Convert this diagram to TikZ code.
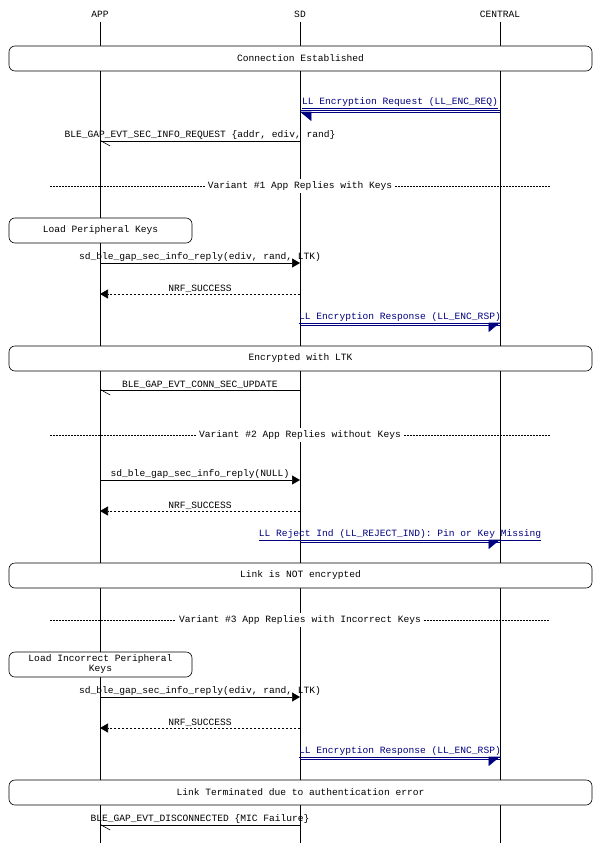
\documentclass[tikz,border=0pt]{standalone}
\usepackage{fontspec}
\setmonofont{Liberation Mono}
\usetikzlibrary{arrows.meta}
\definecolor{navy}{RGB}{0,0,128}

\begin{document}
\begin{tikzpicture}[x=1pt,y=-1pt,font=\ttfamily\fontsize{9.6}{11}\selectfont]
  \tikzset{life/.style={draw,line width=0.6pt}}
  \tikzset{band/.style={draw,fill=white,rounded corners=6pt,line width=0.6pt,minimum height=25pt,inner sep=0pt}}
  \tikzset{msg/.style={draw,line width=0.6pt,-{Triangle[length=8pt,width=9pt]}}}
  \tikzset{ret/.style={msg,dashed,dash pattern=on 2pt off 2pt}}
  \tikzset{evt/.style={draw,line width=0.6pt,-{Straight Barb[left,length=9pt,width=10pt]}}}
  \tikzset{air/.style={draw=navy,line width=0.6pt}}
  \tikzset{lbl/.style={anchor=south,inner sep=1pt}}
  \tikzset{alb/.style={lbl,text=navy}}
  \tikzset{sep/.style={draw,line width=0.5pt,dash pattern=on 1.5pt off 1.5pt}}

  \useasboundingbox (0,0) rectangle (600,843);

  % lifelines
  \node (app) at (100,14) {APP};
  \node (sd) at (300,14) {SD};
  \node (cen) at (500,14) {CENTRAL};
  \coordinate (append) at (100,843);
  \coordinate (sdend) at (300,843);
  \coordinate (cenend) at (500,843);
  \draw[life] (100,22) -- (append);
  \draw[life] (300,22) -- (sdend);
  \draw[life] (500,22) -- (cenend);

  \node[band,minimum width=583pt] (est) at (300.5,58.5) {Connection Established};

  % request from central
  \coordinate (req1) at (500,110);
  \coordinate (req2) at (300,110);
  \draw[air] (req1) -- (req2);
  \draw[air,-{Triangle[left,length=11pt,width=18pt]},fill=navy] ([yshift=-2pt]req1) -- ([yshift=-2pt]req2);
  \node[alb] (reql) at (400,110) {\underline{LL Encryption Request (LL\_ENC\_REQ)}};

  \coordinate (info1) at (300,141);
  \coordinate (info2) at (100,141);
  \draw[evt] (info1) -- (info2);
  \node[lbl] (infol) at (200,141) {BLE\_GAP\_EVT\_SEC\_INFO\_REQUEST \{addr, ediv, rand\}};

  % variant 1
  \node[fill=white,inner sep=3pt] (var1) at (300,186) {Variant \#1 App Replies with Keys};
  \coordinate (var1a) at (50,186);
  \coordinate (var1b) at (550,186);
  \draw[sep] (var1a) -- (var1.west);
  \draw[sep] (var1.east) -- (var1b);

  \node[band,minimum width=183pt] (load1) at (100.5,230.5) {Load Peripheral Keys};

  \coordinate (rep1a) at (100,263);
  \coordinate (rep1b) at (300,263);
  \draw[msg] (rep1a) -- (rep1b);
  \node[lbl] (rep1l) at (200,263) {sd\_ble\_gap\_sec\_info\_reply(ediv, rand, LTK)};

  \coordinate (ok1a) at (300,294);
  \coordinate (ok1b) at (100,294);
  \draw[ret] (ok1a) -- (ok1b);
  \node[lbl] (ok1l) at (200,294) {NRF\_SUCCESS};

  \coordinate (rsp1a) at (300,325);
  \coordinate (rsp1b) at (500,325);
  \draw[air] (rsp1a) -- (rsp1b);
  \draw[air,-{Triangle[right,length=11pt,width=18pt]},fill=navy] ([yshift=2pt]rsp1a) -- ([yshift=2pt]rsp1b);
  \node[alb] (rsp1l) at (400,325) {\underline{LL Encryption Response (LL\_ENC\_RSP)}};

  \node[band,minimum width=583pt] (enc) at (300.5,358.5) {Encrypted with LTK};

  \coordinate (upd1) at (300,390);
  \coordinate (upd2) at (100,390);
  \draw[evt] (upd1) -- (upd2);
  \node[lbl] (updl) at (200,390) {BLE\_GAP\_EVT\_CONN\_SEC\_UPDATE};

  % variant 2
  \node[fill=white,inner sep=3pt] (var2) at (300,435) {Variant \#2 App Replies without Keys};
  \coordinate (var2a) at (50,435);
  \coordinate (var2b) at (550,435);
  \draw[sep] (var2a) -- (var2.west);
  \draw[sep] (var2.east) -- (var2b);

  \coordinate (rep2a) at (100,480);
  \coordinate (rep2b) at (300,480);
  \draw[msg] (rep2a) -- (rep2b);
  \node[lbl] (rep2l) at (200,480) {sd\_ble\_gap\_sec\_info\_reply(NULL)};

  \coordinate (ok2a) at (300,511);
  \coordinate (ok2b) at (100,511);
  \draw[ret] (ok2a) -- (ok2b);
  \node[lbl] (ok2l) at (200,511) {NRF\_SUCCESS};

  \coordinate (rej1) at (300,542);
  \coordinate (rej2) at (500,542);
  \draw[air] (rej1) -- (rej2);
  \draw[air,-{Triangle[right,length=11pt,width=18pt]},fill=navy] ([yshift=2pt]rej1) -- ([yshift=2pt]rej2);
  \node[alb] (rejl) at (400,542) {\underline{LL Reject Ind (LL\_REJECT\_IND): Pin or Key Missing}};

  \node[band,minimum width=583pt] (noenc) at (300.5,575.5) {Link is NOT encrypted};

  % variant 3
  \node[fill=white,inner sep=3pt] (var3) at (300,620) {Variant \#3 App Replies with Incorrect Keys};
  \coordinate (var3a) at (50,620);
  \coordinate (var3b) at (550,620);
  \draw[sep] (var3a) -- (var3.west);
  \draw[sep] (var3.east) -- (var3b);

  \node[band,minimum width=183pt,align=center,font=\ttfamily\fontsize{9.6}{10}\selectfont] (load3) at (100.5,664.5) {Load Incorrect Peripheral\\Keys};

  \coordinate (rep3a) at (100,697);
  \coordinate (rep3b) at (300,697);
  \draw[msg] (rep3a) -- (rep3b);
  \node[lbl] (rep3l) at (200,697) {sd\_ble\_gap\_sec\_info\_reply(ediv, rand, LTK)};

  \coordinate (ok3a) at (300,728);
  \coordinate (ok3b) at (100,728);
  \draw[ret] (ok3a) -- (ok3b);
  \node[lbl] (ok3l) at (200,728) {NRF\_SUCCESS};

  \coordinate (rsp3a) at (300,759);
  \coordinate (rsp3b) at (500,759);
  \draw[air] (rsp3a) -- (rsp3b);
  \draw[air,-{Triangle[right,length=11pt,width=18pt]},fill=navy] ([yshift=2pt]rsp3a) -- ([yshift=2pt]rsp3b);
  \node[alb] (rsp3l) at (400,759) {\underline{LL Encryption Response (LL\_ENC\_RSP)}};

  \node[band,minimum width=583pt] (term) at (300.5,792.5) {Link Terminated due to authentication error};

  \coordinate (dis1) at (300,825);
  \coordinate (dis2) at (100,825);
  \draw[evt] (dis1) -- (dis2);
  \node[lbl] (disl) at (200,825) {BLE\_GAP\_EVT\_DISCONNECTED \{MIC Failure\}};
\end{tikzpicture}
\end{document}
